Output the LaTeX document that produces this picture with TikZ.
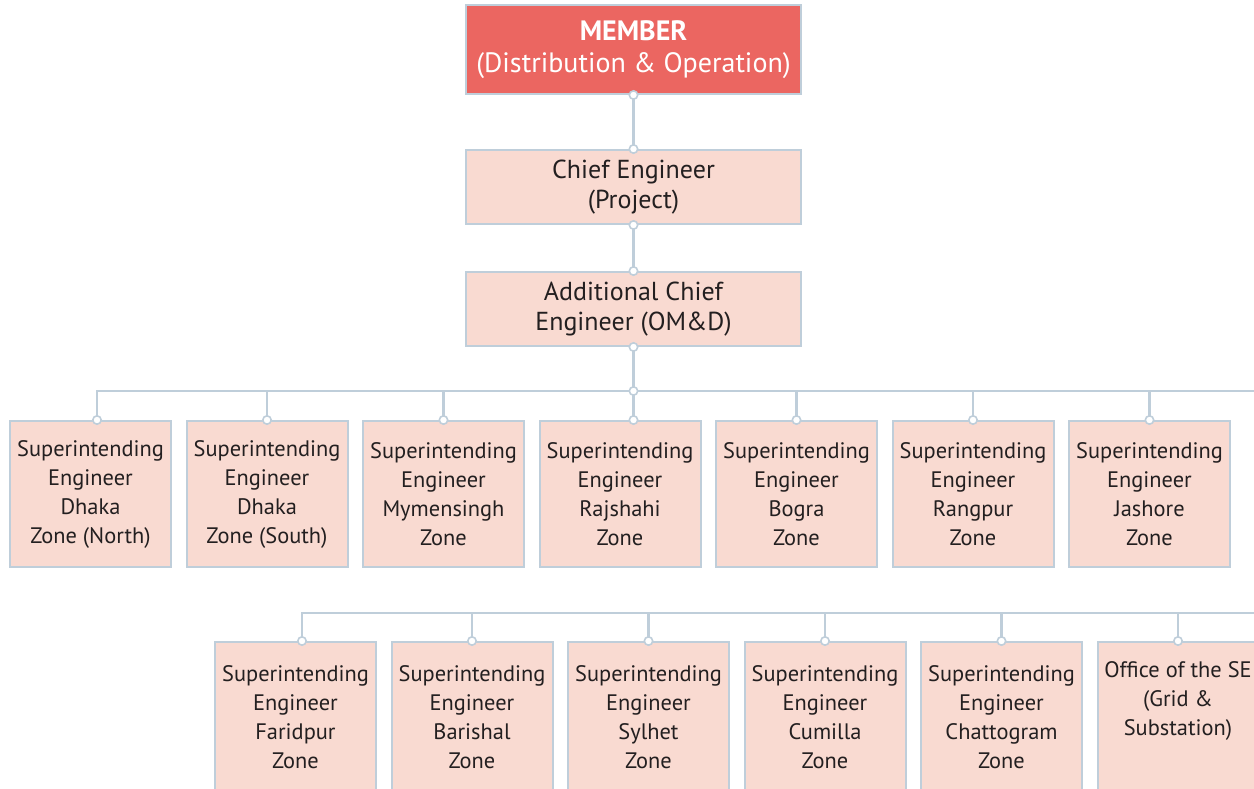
\documentclass[tikz,border=0pt]{standalone}
\usepackage{fontspec}
\setmainfont{PT Sans}
\usetikzlibrary{positioning, calc}
\definecolor{linegray}{HTML}{BFCEDA}
\definecolor{topred}{HTML}{EB6661}
\definecolor{boxpink}{HTML}{F9DAD1}
\definecolor{txtdark}{HTML}{231F20}
\tikzstyle{link} = [draw=linegray, line width=2.2pt]
\tikzstyle{joint} = [draw=linegray, line width=1.6pt, fill=white]
\tikzstyle{block} = [rectangle, draw=linegray, line width=2pt, fill=boxpink, text=txtdark, align=center, inner sep=0pt, font=\fontsize{22.4}{29}\selectfont]
\tikzstyle{headbox} = [block, minimum width=335pt, minimum height=74pt, font=\fontsize{26}{30}\selectfont]
\tikzstyle{zonebox} = [block, minimum width=161pt, minimum height=146pt]
\tikzstyle{lowbox} = [zonebox, minimum height=150pt]

\begin{document}
\begin{tikzpicture}[x=1pt, y=-1pt, node distance=176.5pt]
    \useasboundingbox (0,0) rectangle (1254,788);

    % top of the chart
    \node (member) [headbox, fill=topred, text=white, minimum height=89pt,
        font=\fontsize{28}{32}\selectfont] at (633.5,49.5) {\textbf{MEMBER}\\(Distribution \& Operation)};
    \node (chief)  [headbox, below of=member, node distance=137.5pt] {Chief Engineer\\(Project)};
    \node (addl)   [headbox, below of=chief,  node distance=122pt] {Additional Chief\\Engineer (OM\&D)};

    % first row of zones
    \node (dhakaN)   [zonebox] at (90.5,494) {Superintending\\Engineer\\Dhaka\\Zone (North)};
    \node (dhakaS)   [zonebox, right of=dhakaN]   {Superintending\\Engineer\\Dhaka\\Zone (South)};
    \node (mymen)    [zonebox, right of=dhakaS]   {Superintending\\Engineer\\Mymensingh\\Zone};
    \node (rajshahi) [zonebox, right of=mymen]    {Superintending\\Engineer\\Rajshahi\\Zone};
    \node (bogra)    [zonebox, right of=rajshahi] {Superintending\\Engineer\\Bogra\\Zone};
    \node (rangpur)  [zonebox, right of=bogra]    {Superintending\\Engineer\\Rangpur\\Zone};
    \node (jashore)  [zonebox, right of=rangpur]  {Superintending\\Engineer\\Jashore\\Zone};

    % second row of zones
    \node (faridpur)  [lowbox] at (295.5,717) {Superintending\\Engineer\\Faridpur\\Zone};
    \node (barishal)  [lowbox, right of=faridpur]  {Superintending\\Engineer\\Barishal\\Zone};
    \node (sylhet)    [lowbox, right of=barishal]  {Superintending\\Engineer\\Sylhet\\Zone};
    \node (cumilla)   [lowbox, right of=sylhet]    {Superintending\\Engineer\\Cumilla\\Zone};
    \node (chatto)    [lowbox, right of=cumilla]   {Superintending\\Engineer\\Chattogram\\Zone};
    \node (gridsub)   [lowbox, right of=chatto]    {Office of the SE\\(Grid \&\\Substation)\\\strut};

    \coordinate (busA)    at (633.5,391);
    \coordinate (busAend) at (1254,391);
    \coordinate (busBend) at (1254,613);
    \coordinate (tapA)    at ($(dhakaN.north)+(6.5,0)$);
    \coordinate (tapB)    at ($(faridpur.north)+(6.5,0)$);
    \coordinate (tapR)    at (rajshahi.north -| addl.south);

    % connectors
    \draw [link] (member.south) -- (chief.north);
    \draw [link] (chief.south) -- (addl.north);
    \draw [link] (addl.south) -- (tapR);
    \draw [link] (tapA) |- (busAend);
    \draw [link] (tapB) |- (busBend);
    \foreach \z in {dhakaS, mymen, bogra, rangpur, jashore}
        \draw [link] (\z.north) -- (\z.north |- busAend);
    \foreach \z in {barishal, sylhet, cumilla, chatto, gridsub}
        \draw [link] (\z.north) -- (\z.north |- busBend);

    % small rings at the joints
    \foreach \p in {member.south, chief.north, chief.south, addl.north, addl.south,
                    busA, tapR, tapA, dhakaS.north, mymen.north, bogra.north,
                    rangpur.north, jashore.north, tapB, barishal.north,
                    sylhet.north, cumilla.north, chatto.north, gridsub.north}
        \filldraw [joint] (\p) circle (4.2pt);
\end{tikzpicture}
\end{document}
